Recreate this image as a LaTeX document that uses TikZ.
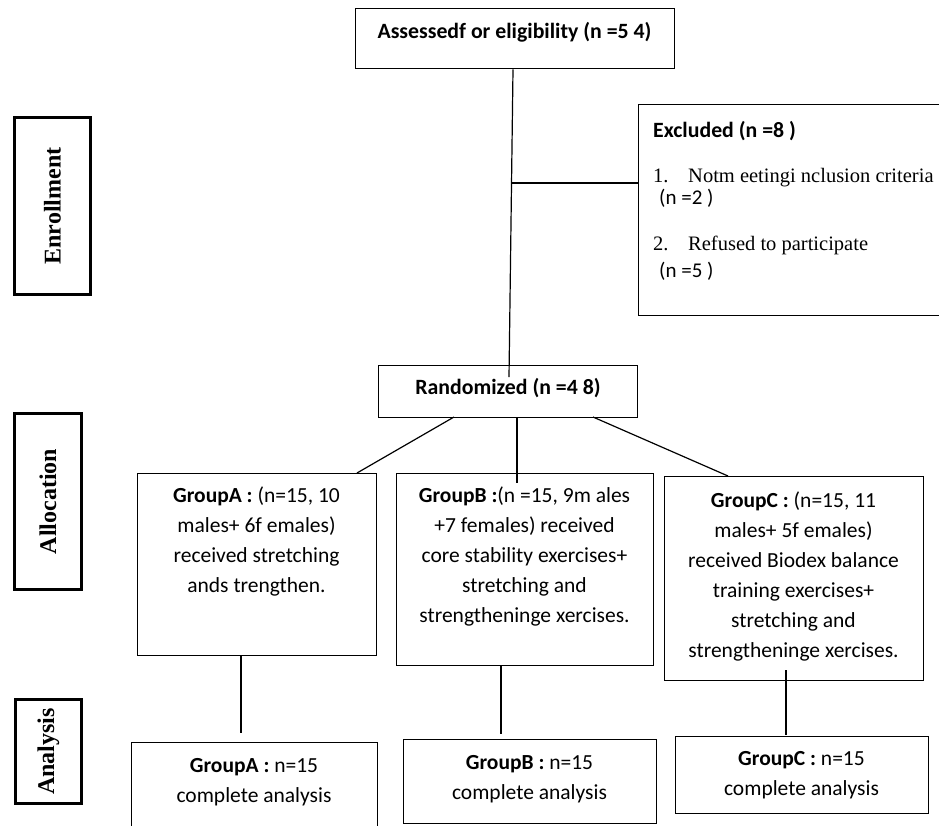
\documentclass[tikz,border=0pt]{standalone}
\usepackage{fontspec}
\setmainfont{Carlito}
\newfontfamily\tnr{Liberation Serif}
\begin{document}
\begin{tikzpicture}[x=1pt,y=-1pt,
  box/.style={draw=black,line width=1.3pt,rectangle,inner sep=0pt,anchor=north west},
  sidebox/.style={draw=black,line width=3pt,rectangle,inner sep=0pt,anchor=north west},
  conn/.style={draw=black,line width=1.2pt},
  txt/.style={inner sep=0pt,anchor=base,align=center,font=\fontsize{21.5}{30}\selectfont},
  sidetxt/.style={inner sep=0pt,rotate=90,font=\tnr\bfseries\fontsize{24}{28}\selectfont}
]
\fill[white] (0,0) rectangle (939,825);
\useasboundingbox (0,0) rectangle (939,825);

% side labels
\node[sidebox,minimum width=76pt,minimum height=177pt] (enrbox) at (13,116) {};
\node[sidetxt] (enrtxt) at (enrbox.center) {Enrollment};
\node[sidebox,minimum width=67pt,minimum height=176pt] (allbox) at (13,412) {};
\node[sidetxt] (alltxt) at (allbox.center) {Allocation};
\node[sidebox,minimum width=66pt,minimum height=104pt] (anabox) at (14,698) {};
\node[sidetxt] (anatxt) at (anabox.center) {Analysis};

% top box
\node[box,minimum width=319pt,minimum height=60pt] (assess) at (355,8) {};
\node[txt,font=\bfseries\fontsize{21.8}{26}\selectfont] (assesst) at (514.5,38) {Assessedf or eligibility (n =5 4)};

% excluded
\node[box,minimum width=310pt,minimum height=211pt] (excl) at (638,104) {};
\node[inner sep=0pt,anchor=base west,font=\bfseries\fontsize{21.8}{26}\selectfont] (exh) at (653,137) {Excluded (n =8 )};
\node[inner sep=0pt,anchor=base west,font=\tnr\fontsize{20.5}{24}\selectfont] (ex1) at (653,182) {1.};
\node[inner sep=0pt,anchor=base west,font=\tnr\fontsize{20.5}{24}\selectfont] (ex1t) at (688,182) {Notm eetingi nclusion criteria};
\node[inner sep=0pt,anchor=base west,font=\fontsize{21}{24}\selectfont] (ex1n) at (659,204) {(n =2 )};
\node[inner sep=0pt,anchor=base west,font=\tnr\fontsize{20.5}{24}\selectfont] (ex2) at (653,250) {2.};
\node[inner sep=0pt,anchor=base west,font=\tnr\fontsize{20.5}{24}\selectfont] (ex2t) at (688,250) {Refused to participate};
\node[inner sep=0pt,anchor=base west,font=\fontsize{21}{24}\selectfont] (ex2n) at (659,277) {(n =5 )};

% randomized
\node[box,minimum width=259pt,minimum height=52pt] (rand) at (378,365) {};
\node[txt,font=\bfseries\fontsize{21.8}{26}\selectfont] (randt) at (508,394) {Randomized (n =4 8)};

% groups (anchor base = last line baseline)
\node[box,minimum width=239pt,minimum height=182pt] (ga) at (137,473) {};
\node[txt] (gat) at (256.5,592) {\textbf{GroupA :} (n=15, 10\\males+ 6f emales)\\received stretching\\ands trengthen.};
\node[box,minimum width=257pt,minimum height=192pt] (gb) at (396,473) {};
\node[txt] (gbt) at (524.5,622) {\textbf{GroupB :}(n =15, 9m ales\\+7 females) received\\core stability exercises+\\stretching and\\strengtheninge xercises.};
\node[box,minimum width=259pt,minimum height=204pt] (gc) at (664,476) {};
\node[txt] (gct) at (793.5,657) {\textbf{GroupC :} (n=15, 11\\males+ 5f emales)\\received Biodex balance\\training exercises+\\stretching and\\strengtheninge xercises.};

% analysis
\node[box,minimum width=246pt,minimum height=90pt] (aa) at (131,742) {};
\node[txt] (aat) at (254,802) {\textbf{GroupA :} n=15\\complete analysis};
\node[box,minimum width=253pt,minimum height=84pt] (ab) at (403,739) {};
\node[txt] (abt) at (529.5,799) {\textbf{GroupB :} n=15\\complete analysis};
\node[box,minimum width=253pt,minimum height=77pt] (ac) at (675,736) {};
\node[txt] (act) at (801.5,795) {\textbf{GroupC :} n=15\\complete analysis};

% connector end points
\coordinate (randin) at (509,377);
\coordinate (exj) at (511,183);
\coordinate (rA) at (454,417);
\coordinate (aT) at (357,473);
\coordinate (rB) at (517,417);
\coordinate (bIn) at (517,483);
\coordinate (rC) at (593,417);
\coordinate (cT) at (728,476);
\coordinate (aB) at (241,655);
\coordinate (aE) at (241,733);
\coordinate (bB) at (501,665);
\coordinate (bE) at (501,734);
\coordinate (cIn) at (786,670);
\coordinate (cE) at (786,735);

\draw[conn] (assess.south -| 513,0) -- (randin);
\draw[conn] (exj) -- (exj -| excl.west);
\draw[conn] (rA) -- (aT);
\draw[conn] (rB) -- (bIn);
\draw[conn] (rC) -- (cT);
\draw[conn] (aB) -- (aE);
\draw[conn] (bB) -- (bE);
\draw[conn] (cIn) -- (cE);
\end{tikzpicture}
\end{document}
